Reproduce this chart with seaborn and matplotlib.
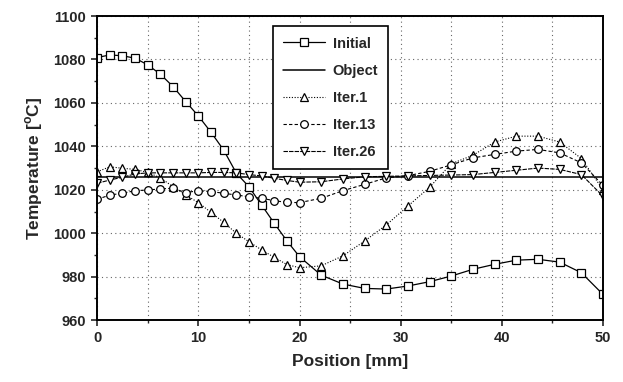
import numpy as np
import pandas as pd
import matplotlib
matplotlib.use("Agg")
import matplotlib.pyplot as plt
import seaborn as sns

# ---- data ----
position = [0, 1.25, 2.5, 3.75, 5, 6.25, 7.5, 8.75, 10, 11.25, 12.5, 13.75, 15, 16.25, 17.5, 18.75, 20,
            22.14, 24.29, 26.43, 28.57, 30.71, 32.86, 35, 37.14, 39.29, 41.43, 43.57, 45.71, 47.86, 50]
initial = [1080.9, 1082.1, 1081.7, 1080.6, 1077.5, 1073.2, 1067.5, 1060.6, 1054, 1046.5, 1038.3, 1027.7,
           1021.4, 1013, 1004.6, 996.5, 989.2,
           980.7, 976.6, 974.6, 974.3, 975.7, 977.7, 980.3, 983.4, 985.7, 987.6, 988, 986.7, 981.8, 971.8]
object_x = [0, 50]
object_t = [1026, 1026]
iter1 = [1028.3, 1030.6, 1029.9, 1029.4, 1028, 1025.5, 1021.4, 1017.6, 1014.1, 1009.6, 1005, 1000,
         996.1, 992.3, 988.9, 985.6, 984.1,
         985, 989.6, 996.4, 1003.8, 1012.5, 1021.2, 1032, 1035.9, 1042, 1044.7, 1044.7, 1042, 1034.4, 1020]
iter13 = [1015.6, 1017.6, 1018.4, 1019.6, 1019.9, 1020.4, 1020.7, 1018.7, 1019.6, 1019.2, 1018.4, 1017.6,
          1016.8, 1016.1, 1015, 1014.2, 1014.1,
          1016.1, 1019.6, 1022.5, 1025.5, 1026.5, 1028.5, 1031.5, 1034.7, 1036.3, 1037.8, 1038.6, 1037, 1032.4, 1022]
iter26 = [1023, 1024.5, 1025.8, 1027.3, 1027.8, 1027.8, 1027.8, 1027.8, 1027.8, 1028, 1028, 1027.8,
          1027, 1026.4, 1025.3, 1024.3, 1023.5,
          1023.7, 1025, 1026, 1026.2, 1026.4, 1026.6, 1026.8, 1027, 1028, 1029, 1030, 1029.4, 1027, 1017]

xticks = [0, 10, 20, 30, 40, 50]
yticks = [960, 980, 1000, 1020, 1040, 1060, 1080, 1100]

sns.set_style("ticks")
plt.rcParams['font.family'] = ['Liberation Sans', 'DejaVu Sans']
plt.rcParams['font.weight'] = 'bold'
plt.rcParams['axes.labelweight'] = 'bold'

fig = plt.figure(figsize=(6.23, 3.82), dpi=100)
ax = fig.add_axes([0.156, 0.162, 0.812, 0.796])

common = dict(ax=ax, color='black', markerfacecolor='white', markeredgecolor='black',
              markeredgewidth=0.9, markersize=5.5)

sns.lineplot(x=position, y=initial, marker='s', linestyle='-', linewidth=0.9, label='Initial', **common)
sns.lineplot(x=object_x, y=object_t, ax=ax, color='black', linewidth=1.1, label='Object')
sns.lineplot(x=position, y=iter1, marker='^', linestyle=(0, (1, 1.5)), linewidth=0.8, label='Iter.1', **common)
sns.lineplot(x=position, y=iter13, marker='o', linestyle=(0, (3, 2)), linewidth=0.8, label='Iter.13', **common)
sns.lineplot(x=position, y=iter26, marker='v', linestyle=(0, (4, 1)), linewidth=0.8, label='Iter.26', **common)

ax.set_xlim(0, 50)
ax.set_ylim(960, 1100)
ax.set_xticks(xticks)
ax.set_yticks(yticks)
ax.set_xticks(np.arange(5, 50, 10), minor=True)
ax.set_yticks(np.arange(970, 1100, 20), minor=True)
ax.tick_params(axis='both', which='major', direction='out', length=4, width=1.2, labelsize=10.5, pad=4)
ax.tick_params(axis='both', which='minor', direction='out', length=2.5, width=1.0)
for lab in ax.get_xticklabels() + ax.get_yticklabels():
    lab.set_fontweight('bold')

ax.grid(True, which='major', axis='y', linestyle=(0, (1, 3)), color='#666666', linewidth=0.8)
ax.grid(True, which='both', axis='x', linestyle=(0, (1, 3)), color='#666666', linewidth=0.8)

for sp in ax.spines.values():
    sp.set_visible(True)
    sp.set_linewidth(1.4)
    sp.set_color('black')

ax.set_xlabel('Position [mm]', fontsize=12.5, fontweight='bold', labelpad=6)
ax.set_ylabel('Temperature [$^{\\mathregular{o}}$C]', fontsize=12.5, fontweight='bold', labelpad=6)

leg = ax.legend(loc='upper left', bbox_to_anchor=(0.333, 0.99), fontsize=10.5, frameon=True,
                fancybox=False, edgecolor='black', handlelength=2.9, labelspacing=0.9,
                borderpad=0.7, handletextpad=0.5)
leg.get_frame().set_linewidth(1.2)
leg.get_frame().set_alpha(1)
for t in leg.get_texts():
    t.set_fontweight('bold')

fig.savefig('out.png', dpi=100)
